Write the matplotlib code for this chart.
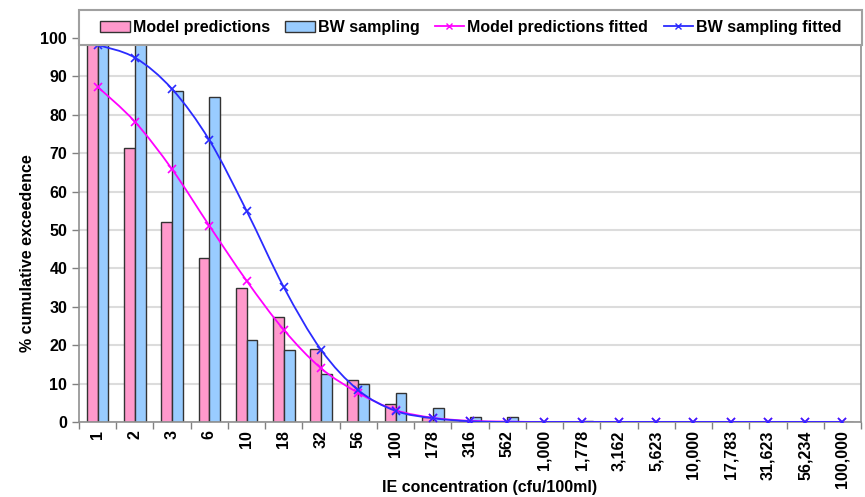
import numpy as np
import matplotlib
matplotlib.use('Agg')
import matplotlib.pyplot as plt
from matplotlib.path import Path
from matplotlib.patches import PathPatch, Patch, Rectangle
from matplotlib.lines import Line2D

plt.rcParams['font.family'] = ['Liberation Sans', 'DejaVu Sans']

# IE concentration classes (cfu/100ml)
categories = ['1', '2', '3', '6', '10', '18', '32', '56', '100', '178', '316',
              '562', '1,000', '1,778', '3,162', '5,623', '10,000', '17,783',
              '31,623', '56,234', '100,000']

# % cumulative exceedence
model_pred = [100, 71.3, 52.2, 42.6, 35.0, 27.3, 18.9, 10.9, 4.6, 1.2, 0.2,
              0.1, 0, 0, 0, 0, 0, 0, 0, 0, 0]
bw_sampling = [100, 100, 86.2, 84.7, 21.3, 18.7, 12.5, 10.0, 7.6, 3.7, 1.4,
               1.4, 0, 0.2, 0, 0, 0, 0, 0, 0, 0]
model_fitted = [87.3, 78.2, 65.8, 51.1, 36.8, 24.0, 14.0, 7.6, 3.1, 1.1, 0.3,
                0.1, 0, 0, 0, 0, 0, 0, 0, 0, 0]
bw_fitted = [98.2, 94.9, 86.7, 73.4, 55.0, 35.1, 18.8, 8.3, 2.9, 1.0, 0.2,
             0, 0, 0, 0, 0, 0, 0, 0, 0, 0]

PINK = '#ff99cc'
LIGHTBLUE = '#99ccff'
MAGENTA = '#ff00ff'
BLUE = '#2b2bff'
EDGE = '#333333'
W, H = 865, 497


def smooth_path(x, y):
    # cubic bezier through the points, spreadsheet-style smoothing
    x = np.asarray(x, float)
    y = np.asarray(y, float)
    pts = np.column_stack([x, y])
    verts = [pts[0]]
    codes = [Path.MOVETO]
    n = len(pts)
    for i in range(n - 1):
        p0 = pts[i - 1] if i > 0 else pts[i]
        p1 = pts[i]
        p2 = pts[i + 1]
        p3 = pts[i + 2] if i + 2 < n else pts[i + 1]
        c1 = p1 + (p2 - p0) / 6.0
        c2 = p2 - (p3 - p1) / 6.0
        verts += [c1, c2, p2]
        codes += [Path.CURVE4] * 3
    return Path(verts, codes)


fig = plt.figure(figsize=(W / 100, H / 100), dpi=100)
ax = fig.add_axes([79 / W, 1 - 422 / H, 782 / W, 384 / H])

x = np.arange(len(categories))
w = 0.29
ax.bar(x - w / 2, model_pred, w, color=PINK, edgecolor=EDGE, linewidth=1.0, zorder=2)
ax.bar(x + w / 2, bw_sampling, w, color=LIGHTBLUE, edgecolor=EDGE, linewidth=1.0, zorder=2)

for vals, col in ((model_fitted, MAGENTA), (bw_fitted, BLUE)):
    ax.add_patch(PathPatch(smooth_path(x, vals), facecolor='none', edgecolor=col,
                           linewidth=1.3, zorder=3))
    ax.plot(x, vals, linestyle='none', marker='x', color=col, markersize=6,
            markeredgewidth=1.2, zorder=4)

ax.set_xlim(-0.5, len(categories) - 0.5)
ax.set_ylim(0, 100)
ax.set_yticks(np.arange(0, 101, 10))
ax.yaxis.grid(True, color='#dcdcdc', linewidth=1.5, zorder=0)
ax.set_axisbelow(True)

ax.set_xticks(x)
ax.set_xticklabels(categories, rotation=90, fontsize=11.5, fontweight='bold')
ax.set_xticks(np.arange(-0.5, len(categories), 1), minor=True)
ax.tick_params(axis='x', which='major', length=0, pad=6)
ax.tick_params(axis='x', which='minor', length=5, color='#808080', width=1)
ax.tick_params(axis='y', length=5, color='#808080', width=1, labelsize=11.5)
for lbl in ax.get_yticklabels():
    lbl.set_fontweight('bold')

for sp in ax.spines.values():
    sp.set_color('#909090')
    sp.set_linewidth(1.2)

fig.text(490 / W, 1 - 487.5 / H, 'IE concentration (cfu/100ml)', ha='center',
         va='center', fontsize=11.5, fontweight='bold')
fig.text(27.5 / W, 1 - 253 / H, '% cumulative exceedence', ha='center',
         va='center', rotation=90, fontsize=11.5, fontweight='bold')

# legend box sits over the top of the plot area
fig.patches.append(Rectangle((79 / W, 1 - 45 / H), 783 / W, 35 / H,
                             transform=fig.transFigure, facecolor='white',
                             edgecolor='#a0a0a0', linewidth=1.5, zorder=5))

handles = [
    Patch(facecolor=PINK, edgecolor=EDGE, linewidth=1.0),
    Patch(facecolor=LIGHTBLUE, edgecolor=EDGE, linewidth=1.0),
    Line2D([], [], color=MAGENTA, marker='x', markersize=5, linewidth=1.3),
    Line2D([], [], color=BLUE, marker='x', markersize=5, linewidth=1.3),
]
labels = ['Model predictions', 'BW sampling', 'Model predictions fitted',
          'BW sampling fitted']
leg = fig.legend(handles, labels, loc='center left', ncol=4,
                 bbox_to_anchor=(100 / W, 1 - 27.5 / H),
                 prop={'size': 11.5, 'weight': 'bold'}, frameon=False,
                 handlelength=1.85, handletextpad=0.2, borderpad=0,
                 columnspacing=0.95, borderaxespad=0)
leg.set_zorder(6)

fig.savefig('out.png', dpi=100)
